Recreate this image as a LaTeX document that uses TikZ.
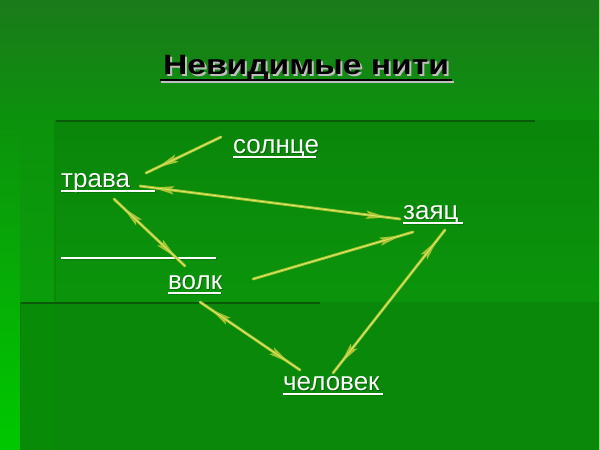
\documentclass[tikz,border=0pt]{standalone}
\usepackage{fontspec}
\setmainfont{Liberation Sans}
\usetikzlibrary{arrows.meta,decorations.markings}
\definecolor{bgtop}{HTML}{1B7A1B}
\definecolor{bgmid}{HTML}{0C920C}
\definecolor{stripbot}{HTML}{00C800}
\definecolor{pone}{HTML}{0A860A}
\definecolor{ponebot}{HTML}{0B940B}
\definecolor{ptwo}{HTML}{088C08}
\definecolor{edge}{HTML}{0A5A0A}
\definecolor{thread}{HTML}{A8C430}
\definecolor{threadlight}{HTML}{D8E870}
\begin{document}
\begin{tikzpicture}[x=1pt,y=-1pt,
  lbl/.style={font=\fontsize{26}{26}\selectfont, text=white, anchor=base west, inner sep=0pt},
  lblshadow/.style={font=\fontsize{26}{26}\selectfont, text=black!70!green, anchor=base west, inner sep=0pt, opacity=0.5},
  uline/.style={draw=white, line width=1.3pt},
  ushadow/.style={draw=black!60!green, line width=1.3pt, opacity=0.5},
  thr/.style={draw=thread, line width=2.8pt, line cap=round},
  thrcore/.style={draw=threadlight, line width=0.9pt},
  headend/.style={postaction={decorate, decoration={markings,
     mark=at position -12pt with {\arrow[thread]{Stealth[length=22pt,width=8pt,inset=4pt]}}}}},
  headstart/.style={postaction={decorate, decoration={markings,
     mark=at position 12pt with {\arrowreversed[thread]{Stealth[length=22pt,width=8pt,inset=4pt]}}}}}
]
\useasboundingbox (0,0) rectangle (600,450);
% background
\shade[top color=bgtop, bottom color=bgmid] (0,0) rectangle (600,120);
\shade[top color=bgmid, bottom color=stripbot] (0,120) rectangle (20,450);
\shade[top color=bgmid, bottom color=bgmid!80!stripbot] (20,120) rectangle (55,302);
\shade[top color=pone, bottom color=ponebot] (55,120) rectangle (600,302);
\fill[ptwo] (20,302) rectangle (600,450);
\fill[pone!60!ptwo] (55,302) rectangle (600,450);
\draw[edge, line width=2pt] (55,121) -- (535,121);
\draw[edge!70!green, line width=1.2pt] (55,120) -- (55,450);
\draw[edge, line width=2pt] (20,303) -- (320,303);
\draw[green!50!black, line width=1pt] (20,302) -- (20,450);
\draw[green!60!white, line width=0.8pt] (599,0) -- (599,450);

% title
\node[font=\fontsize{28}{28}\selectfont\bfseries, text=white!75!black, anchor=base, inner sep=0pt, xscale=1.2] (titlesh) at (308,76) {Невидимые нити};
\node[font=\fontsize{28}{28}\selectfont\bfseries, text=black, anchor=base, inner sep=0pt, xscale=1.2] (title) at (306,74) {Невидимые нити};
\draw[white!75!black, line width=1.5pt] (161,82) -- (454,82);
\draw[black, line width=1.5pt] (160,80) -- (452,80);

% labels
\node[lblshadow] at (234,154) {солнце};
\node[lbl] (sun) at (233,153) {солнце};
\draw[ushadow] (234,158) -- (317,158);
\draw[uline] (233,157) -- (316,157);

\node[lblshadow] at (62,188) {трава};
\node[lbl] (trava) at (61,187) {трава};
\draw[ushadow] (62,192) -- (156,192);
\draw[uline] (61,191) -- (155,191);

\node[lblshadow] at (404,220) {заяц};
\node[lbl] (zayac) at (403,219) {заяц};
\draw[ushadow] (404,224) -- (464,224);
\draw[uline] (403,223) -- (463,223);

\draw[ushadow] (62,259) -- (217,259);
\draw[uline] (61,258) -- (216,258);

\node[lblshadow] at (169,290) {волк};
\node[lbl] (volk) at (168,289) {волк};
\draw[ushadow] (169,294) -- (222,294);
\draw[uline] (168,293) -- (221,293);

\node[lblshadow] at (284,391) {человек};
\node[lbl] (chel) at (283,390) {человек};
\draw[ushadow] (284,395) -- (384,395);
\draw[uline] (283,394) -- (383,394);

% thread end points
\coordinate (sun-w) at (221,137);
\coordinate (trava-ne) at (146,173);
\coordinate (trava-e) at (140,186);
\coordinate (zayac-w) at (400,219);
\coordinate (trava-s) at (114,199);
\coordinate (volk-n) at (185,266);
\coordinate (volk-e) at (253,279);
\coordinate (zayac-sw) at (413,232);
\coordinate (volk-s) at (200,302);
\coordinate (chel-n) at (300,370);
\coordinate (zayac-s) at (445,230);
\coordinate (chel-ne) at (333,373);

% threads
\draw[thr, headend] (sun-w) -- (trava-ne);
\draw[thrcore] (sun-w) -- (trava-ne);
\draw[thr, headend, headstart] (trava-e) -- (zayac-w);
\draw[thrcore] (trava-e) -- (zayac-w);
\draw[thr, headend, headstart] (trava-s) -- (volk-n);
\draw[thrcore] (trava-s) -- (volk-n);
\draw[thr, headend] (volk-e) -- (zayac-sw);
\draw[thrcore] (volk-e) -- (zayac-sw);
\draw[thr, headend, headstart] (volk-s) -- (chel-n);
\draw[thrcore] (volk-s) -- (chel-n);
\draw[thr, headend, headstart] (zayac-s) -- (chel-ne);
\draw[thrcore] (zayac-s) -- (chel-ne);
\end{tikzpicture}
\end{document}
